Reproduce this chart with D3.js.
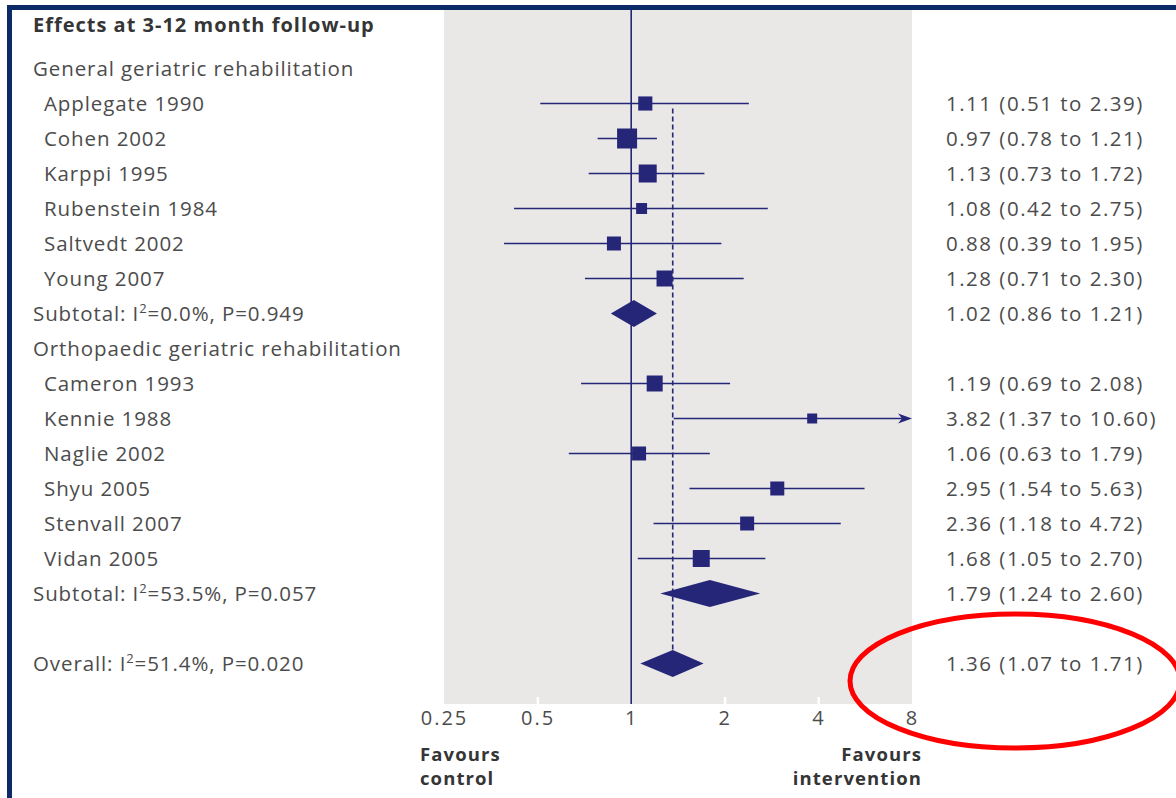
<!DOCTYPE html>
<html>
<head>
<meta charset="utf-8">
<script src="https://cdnjs.cloudflare.com/ajax/libs/d3/7.8.5/d3.min.js"></script>
<style>
  html, body { margin: 0; padding: 0; background: #ffffff; }
  svg { display: block; }
  text { font-family: "Open Sans", "Noto Sans", sans-serif; }
</style>
</head>
<body>
<svg id="chart" width="1176" height="798"></svg>
<script>
// Study-level estimates (odds ratios with 95% CI) and relative weights
const generalNames = ["Applegate 1990", "Cohen 2002", "Karppi 1995", "Rubenstein 1984", "Saltvedt 2002", "Young 2007"];
const generalOR    = [1.11, 0.97, 1.13, 1.08, 0.88, 1.28];
const generalLow   = [0.51, 0.78, 0.73, 0.42, 0.39, 0.71];
const generalHigh  = [2.39, 1.21, 1.72, 2.75, 1.95, 2.30];
const generalWt    = [5.0, 10.0, 8.1, 3.0, 4.9, 6.4];

const orthoNames = ["Cameron 1993", "Kennie 1988", "Naglie 2002", "Shyu 2005", "Stenvall 2007", "Vidan 2005"];
const orthoOR    = [1.19, 3.82, 1.06, 2.95, 2.36, 1.68];
const orthoLow   = [0.69, 1.37, 0.63, 1.54, 1.18, 1.05];
const orthoHigh  = [2.08, 10.60, 1.79, 5.63, 4.72, 2.70];
const orthoWt    = [6.4, 2.5, 4.9, 4.9, 4.9, 7.2];

// Pooled estimates
const subtotalLabels = [["Subtotal: I", "2", "=0.0%, P=0.949"], ["Subtotal: I", "2", "=53.5%, P=0.057"]];
const subtotalOR   = [1.02, 1.79];
const subtotalLow  = [0.86, 1.24];
const subtotalHigh = [1.21, 2.60];
const overallLabel = ["Overall: I", "2", "=51.4%, P=0.020"];
const overallOR   = 1.36;
const overallLow  = 1.07;
const overallHigh = 1.71;

const groupNames = ["General geriatric rehabilitation", "Orthopaedic geriatric rehabilitation"];
const title = "Effects at 3-12 month follow-up";
const tickValues = [0.25, 0.5, 1, 2, 4, 8];
const tickLabels = ["0.25", "0.5", "1", "2", "4", "8"];
const leftCaption = ["Favours", "control"];
const rightCaption = ["Favours", "intervention"];

const fmt = v => v.toFixed(2);
const ciText = (e, l, h) => `${fmt(e)} (${fmt(l)} to ${fmt(h)})`;

// Build the row sequence
const rows = [];
const groups = [
  {names: generalNames, or: generalOR, lo: generalLow, hi: generalHigh, wt: generalWt},
  {names: orthoNames, or: orthoOR, lo: orthoLow, hi: orthoHigh, wt: orthoWt}
];
groups.forEach((g, gi) => {
  rows.push({type: "head", label: groupNames[gi]});
  g.names.forEach((n, i) => rows.push({type: "study", label: n, or: g.or[i], lo: g.lo[i], hi: g.hi[i], wt: g.wt[i]}));
  rows.push({type: "sub", label: subtotalLabels[gi], or: subtotalOR[gi], lo: subtotalLow[gi], hi: subtotalHigh[gi]});
});
rows.push({type: "blank"});
rows.push({type: "overall", label: overallLabel, or: overallOR, lo: overallLow, hi: overallHigh});

const svg = d3.select("#chart");
const navy = "#262679";
const textCol = "#4c4c4c";

const x = d3.scaleLog().base(2).domain([0.25, 8]).range([444, 912]);
const y = d3.scaleBand().domain(d3.range(rows.length)).range([51, 681]);
const yc = i => y(i) + y.bandwidth() / 2;
const side = d3.scaleSqrt().domain([0, 10]).range([0, 20]);

const plotTop = 10, plotBottom = 704;

// Shaded plotting region
svg.append("rect")
  .attr("x", x(0.25)).attr("y", plotTop)
  .attr("width", x(8) - x(0.25)).attr("height", plotBottom - plotTop)
  .attr("fill", "#e9e8e7");

// Axis with small white notches inside the shaded area
const axis = d3.axisBottom(x)
  .tickValues(tickValues)
  .tickFormat((d, i) => tickLabels[i])
  .tickSize(0)
  .tickPadding(7);
const axG = svg.append("g").attr("transform", `translate(0,${plotBottom})`).call(axis);
axG.select(".domain").remove();
axG.selectAll("text")
  .attr("fill", textCol).attr("font-size", 20)
  .attr("letter-spacing", 2)
  .attr("font-family", "\"Open Sans\", sans-serif");
svg.append("g").selectAll("rect")
  .data([0.5, 2, 4])
  .join("rect")
  .attr("x", d => x(d) - 1).attr("y", plotBottom - 7)
  .attr("width", 2.5).attr("height", 7)
  .attr("fill", "#ffffff");

// Line of no effect
svg.append("line")
  .attr("x1", x(1)).attr("x2", x(1))
  .attr("y1", plotTop).attr("y2", plotBottom)
  .attr("stroke", navy).attr("stroke-width", 1.6);

// Overall estimate reference line
const overallIdx = rows.findIndex(r => r.type === "overall");
svg.append("line")
  .attr("x1", x(overallOR)).attr("x2", x(overallOR))
  .attr("y1", yc(1) + 5).attr("y2", yc(overallIdx) - 14)
  .attr("stroke", navy).attr("stroke-width", 1.6)
  .attr("stroke-dasharray", "5,3");

// Study rows: whiskers, arrows and weighted squares
const studies = rows.map((r, i) => ({...r, i})).filter(r => r.type === "study");
const sg = svg.append("g");
studies.forEach(r => {
  const hiClip = Math.min(r.hi, 8);
  sg.append("line")
    .attr("x1", x(Math.max(r.lo, 0.25))).attr("x2", x(hiClip) - (r.hi > 8 ? 8 : 0))
    .attr("y1", yc(r.i)).attr("y2", yc(r.i))
    .attr("stroke", navy).attr("stroke-width", 1.5);
  if (r.hi > 8) {
    const ax = x(8), ay = yc(r.i);
    sg.append("path")
      .attr("d", `M${ax},${ay} L${ax - 14},${ay - 5} L${ax - 10},${ay} L${ax - 14},${ay + 5} Z`)
      .attr("fill", navy);
  }
  const s = side(r.wt);
  sg.append("rect")
    .attr("x", x(r.or) - s / 2).attr("y", yc(r.i) - s / 2)
    .attr("width", s).attr("height", s)
    .attr("fill", navy);
});

// Pooled diamonds
rows.forEach((r, i) => {
  if (r.type !== "sub" && r.type !== "overall") return;
  const cy = yc(i), h = 13.5;
  svg.append("path")
    .attr("d", `M${x(r.lo)},${cy} L${x(r.or)},${cy - h} L${x(r.hi)},${cy} L${x(r.or)},${cy + h} Z`)
    .attr("fill", navy);
});

// Left-hand labels
svg.append("text")
  .attr("x", 33).attr("y", 32)
  .attr("font-size", 20).attr("font-weight", 700)
  .attr("fill", "#353535")
  .attr("letter-spacing", 1.0)
  .text(title);

const lab = svg.append("g").attr("fill", textCol).attr("font-size", 20.5).attr("letter-spacing", 0.9);
rows.forEach((r, i) => {
  if (r.type === "blank") return;
  const t = lab.append("text")
    .attr("x", r.type === "study" ? 44 : 33)
    .attr("y", yc(i) + 7);
  if (Array.isArray(r.label)) {
    t.append("tspan").text(r.label[0]);
    t.append("tspan").attr("dy", -8).attr("font-size", 13).text(r.label[1]);
    t.append("tspan").attr("dy", 8).text(r.label[2]);
  } else {
    t.text(r.label);
  }
});

// Right-hand estimate column
const est = svg.append("g").attr("fill", textCol).attr("font-size", 20.5).attr("letter-spacing", 1.5);
rows.forEach((r, i) => {
  if (r.or === undefined) return;
  est.append("text")
    .attr("x", 946).attr("y", yc(i) + 7)
    .text(ciText(r.or, r.lo, r.hi));
});

// Direction captions
const cap = svg.append("g").attr("fill", "#353535").attr("font-size", 18.5).attr("font-weight", 700).attr("letter-spacing", 1.1);
leftCaption.forEach((s, k) => cap.append("text").attr("x", 420).attr("y", 761 + k * 24).text(s));
rightCaption.forEach((s, k) => cap.append("text").attr("x", 922).attr("y", 761 + k * 24).attr("text-anchor", "end").text(s));

// Frame
svg.append("rect").attr("x", 7).attr("y", 5).attr("width", 1176).attr("height", 5).attr("fill", "#0c2a66");
svg.append("rect").attr("x", 7).attr("y", 5).attr("width", 5).attr("height", 798).attr("fill", "#0c2a66");

// Highlight around the overall estimate
svg.append("ellipse")
  .attr("cx", 1015).attr("cy", 681)
  .attr("rx", 165).attr("ry", 67)
  .attr("fill", "none").attr("stroke", "#ff0000").attr("stroke-width", 5);
</script>
</body>
</html>
